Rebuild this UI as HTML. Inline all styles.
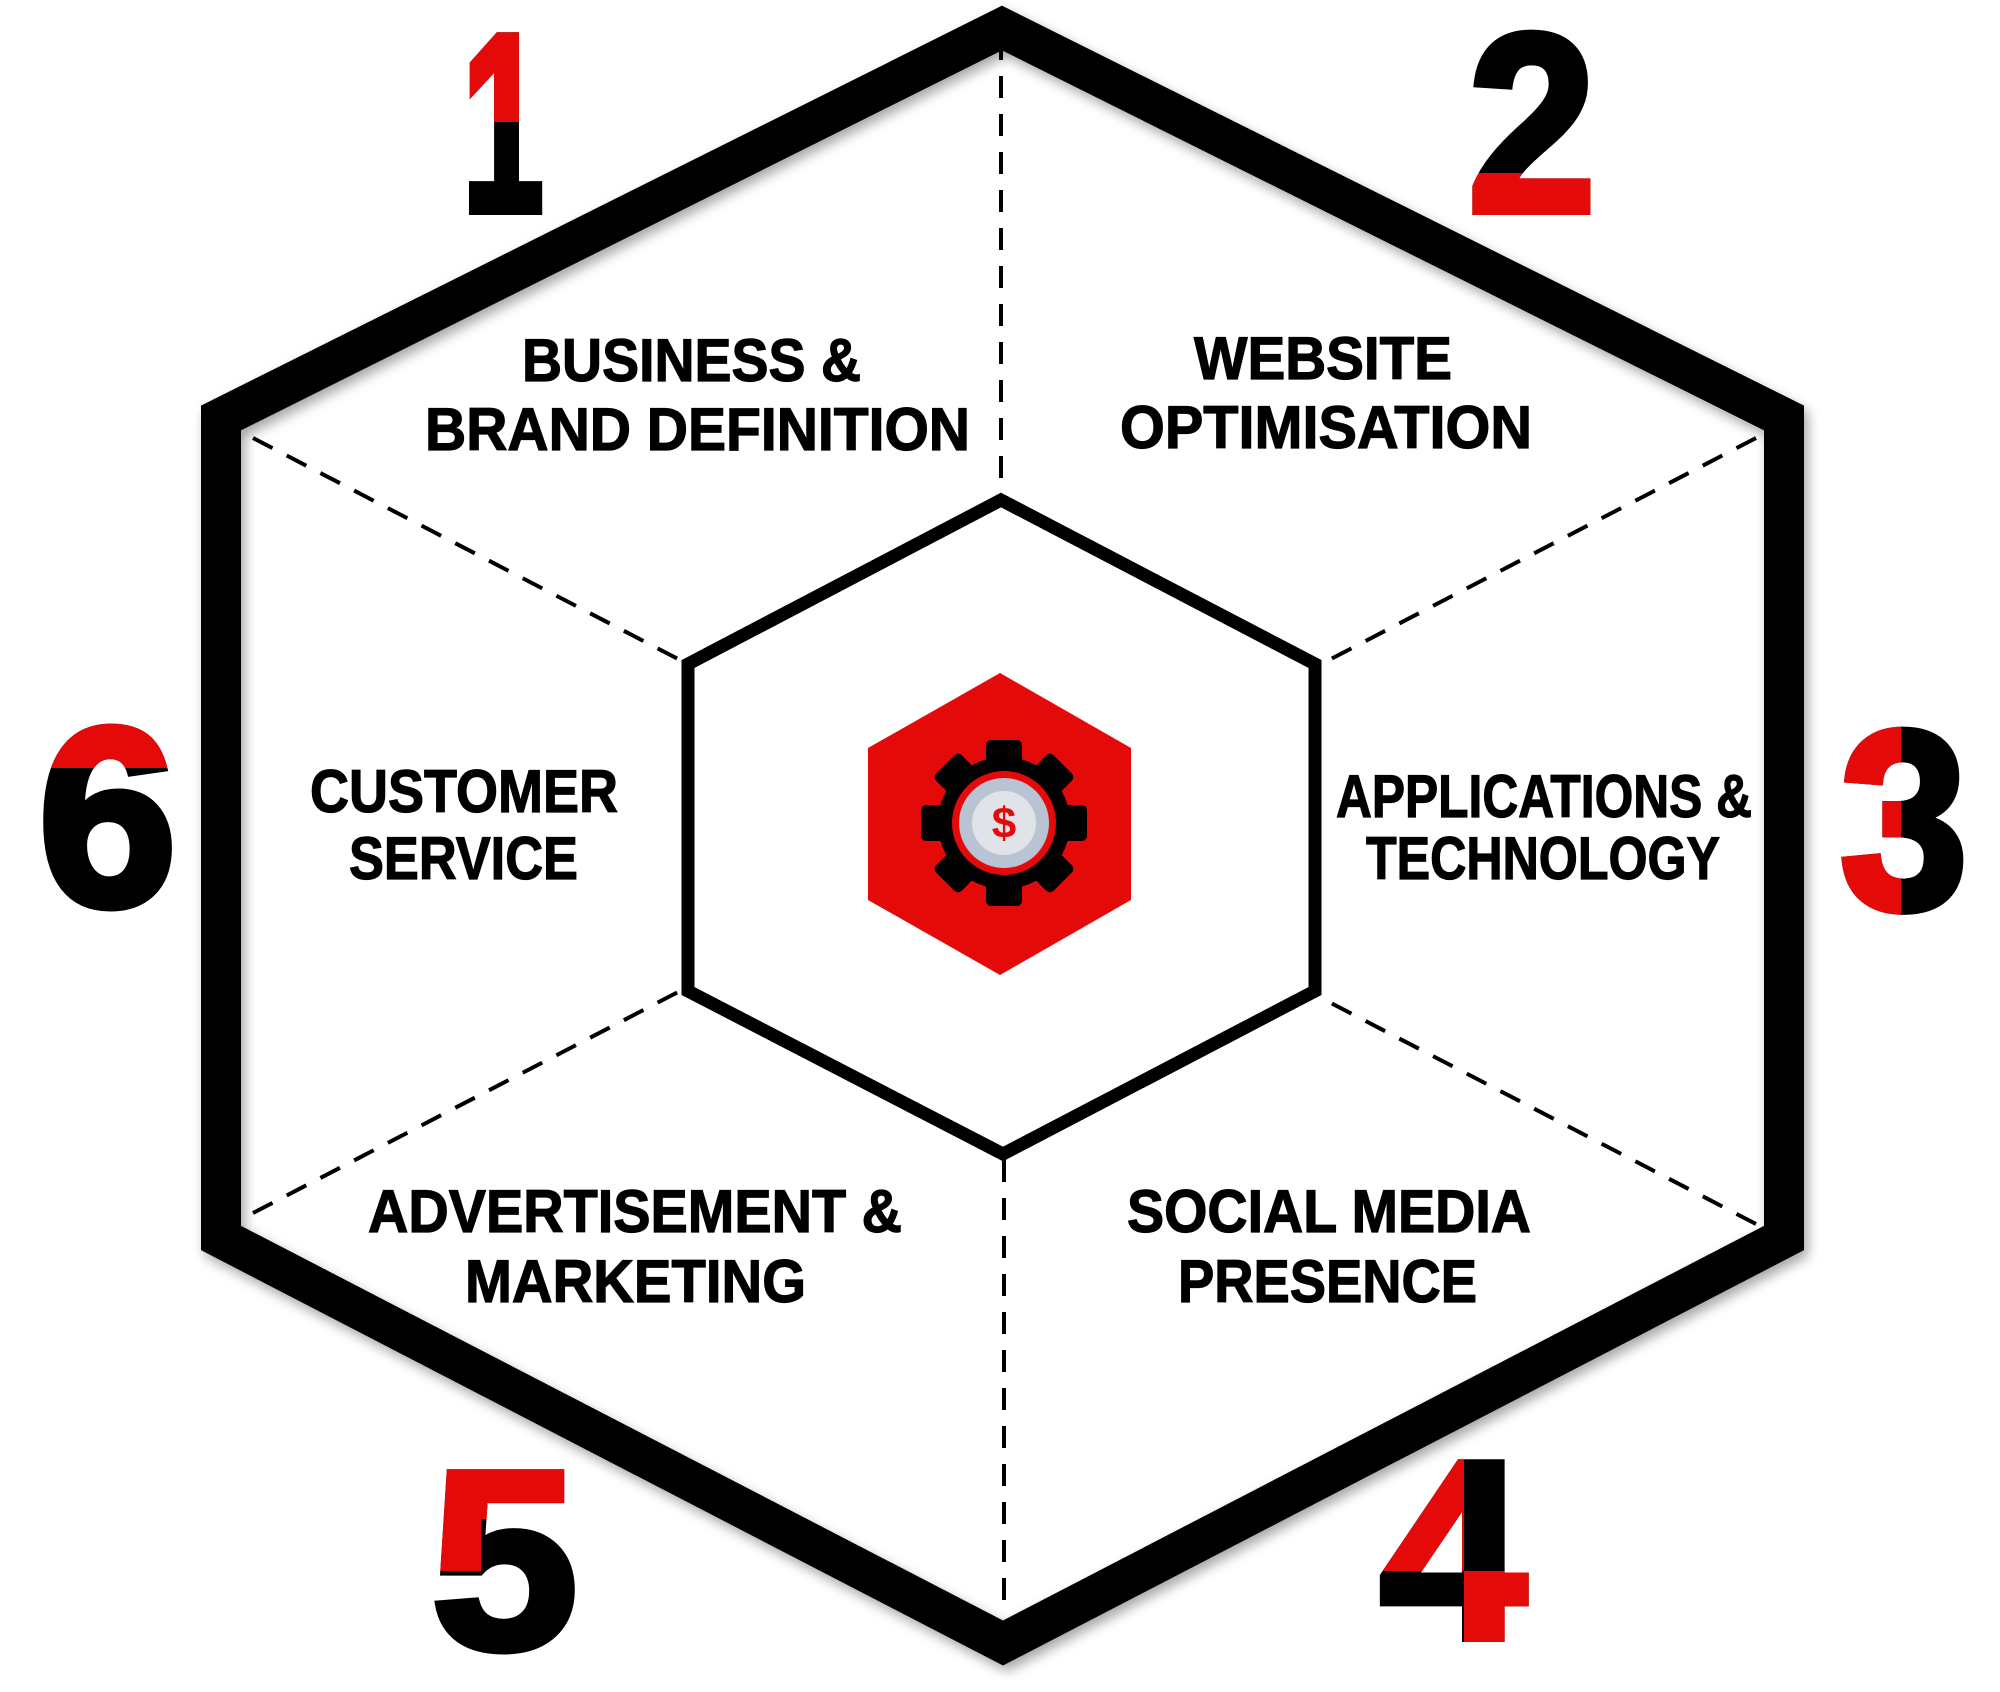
<!DOCTYPE html>
<html><head><meta charset="utf-8"><style>
html,body{margin:0;padding:0;background:#fff;}
svg{display:block;}
.t{font-family:"Liberation Sans",sans-serif;font-weight:bold;font-size:60px;fill:#000;stroke:#000;stroke-width:1.2px;}
.d{font-family:"Liberation Sans",sans-serif;font-weight:bold;font-size:254px;stroke-width:8px;}
</style></head><body>
<svg width="2000" height="1692" viewBox="0 0 2000 1692" xmlns="http://www.w3.org/2000/svg">
<defs>
<filter id="sh" x="-10%" y="-10%" width="120%" height="120%"><feGaussianBlur in="SourceAlpha" stdDeviation="6"/><feOffset dx="4" dy="6"/><feComponentTransfer><feFuncA type="linear" slope="0.35"/></feComponentTransfer><feMerge><feMergeNode/><feMergeNode in="SourceGraphic"/></feMerge></filter>
<clipPath id="c1r"><rect x="0" y="0" width="2000" height="122"/></clipPath>
<clipPath id="c2r"><rect x="0" y="173" width="2000" height="200"/></clipPath>
<clipPath id="c3r"><rect x="0" y="600" width="1901" height="400"/></clipPath>
<clipPath id="c4r"><rect x="0" y="1400" width="1464" height="171"/><rect x="1464" y="1571" width="200" height="200"/></clipPath>
<clipPath id="c5r"><rect x="0" y="1400" width="1000" height="119"/><rect x="0" y="1400" width="481" height="171"/></clipPath>
<clipPath id="c6r"><rect x="0" y="600" width="400" height="168"/></clipPath>
</defs>

<polygon points="1002,28 1784,418 1784,1238 1003,1643 221,1238 221,418" fill="none" stroke="#000" stroke-width="40" stroke-linejoin="miter" filter="url(#sh)"/>

<g stroke="#000" stroke-width="4" stroke-dasharray="22,16" fill="none">
<line x1="1001" y1="38" x2="1001" y2="494"/>
<line x1="1004" y1="1160" x2="1004" y2="1609"/>
<line x1="253" y1="438" x2="680" y2="660"/>
<line x1="1756" y1="438" x2="1329" y2="660"/>
<line x1="253" y1="1213" x2="680" y2="991"/>
<line x1="1756" y1="1224" x2="1329" y2="1002"/>
</g>

<polygon points="1001,500 1315,664 1315,991 1003,1154 688,991 688,664" fill="none" stroke="#000" stroke-width="13"/>

<polygon points="1000,673 1131,748 1131,900 1000,975 868,900 868,748" fill="#e50a0a"/>
<g transform="translate(1004,823)">
<g fill="#000">
<rect x="-18" y="-83" width="36" height="166" rx="5"/>
<rect x="-18" y="-83" width="36" height="166" rx="5" transform="rotate(45)"/>
<rect x="-18" y="-83" width="36" height="166" rx="5" transform="rotate(90)"/>
<rect x="-18" y="-83" width="36" height="166" rx="5" transform="rotate(135)"/>
<circle r="66"/>
</g>
<circle r="52" fill="#e50a0a"/>
<circle r="45" fill="#b8c4d4"/>
<circle r="32" fill="#e0e3e8"/>
<text x="0" y="15" text-anchor="middle" font-family="Liberation Sans,sans-serif" font-weight="bold" font-size="44" fill="#e50a0a">$</text>
</g>

<g transform="translate(-4,-4)">
<text class="t" x="526" y="385" textLength="339" lengthAdjust="spacingAndGlyphs">BUSINESS &amp;</text>
<text class="t" x="429" y="454" textLength="545" lengthAdjust="spacingAndGlyphs">BRAND DEFINITION</text>
<text class="t" x="1198" y="383" textLength="258" lengthAdjust="spacingAndGlyphs">WEBSITE</text>
<text class="t" x="1124" y="452" textLength="412" lengthAdjust="spacingAndGlyphs">OPTIMISATION</text>
<text class="t" x="314" y="816" textLength="308" lengthAdjust="spacingAndGlyphs">CUSTOMER</text>
<text class="t" x="353" y="883" textLength="229" lengthAdjust="spacingAndGlyphs">SERVICE</text>
<text class="t" x="1340" y="821" textLength="416" lengthAdjust="spacingAndGlyphs">APPLICATIONS &amp;</text>
<text class="t" x="1370" y="883" textLength="354" lengthAdjust="spacingAndGlyphs">TECHNOLOGY</text>
<text class="t" x="372" y="1236" textLength="534" lengthAdjust="spacingAndGlyphs">ADVERTISEMENT &amp;</text>
<text class="t" x="469" y="1306" textLength="341" lengthAdjust="spacingAndGlyphs">MARKETING</text>
<text class="t" x="1131" y="1236" textLength="404" lengthAdjust="spacingAndGlyphs">SOCIAL MEDIA</text>
<text class="t" x="1182" y="1306" textLength="299" lengthAdjust="spacingAndGlyphs">PRESENCE</text>
</g>

<g>
<text class="d" x="462" y="211" textLength="82" lengthAdjust="spacingAndGlyphs" fill="#000" stroke="#000">1</text>
<text class="d" x="462" y="211" textLength="82" lengthAdjust="spacingAndGlyphs" fill="#e50a0a" stroke="#e50a0a" clip-path="url(#c1r)">1</text>

<text class="d" x="1468" y="211" textLength="128" lengthAdjust="spacingAndGlyphs" fill="#000" stroke="#000">2</text>
<text class="d" x="1468" y="211" textLength="128" lengthAdjust="spacingAndGlyphs" fill="#e50a0a" stroke="#e50a0a" clip-path="url(#c2r)">2</text>

<text class="d" x="1840" y="908" textLength="128" lengthAdjust="spacingAndGlyphs" fill="#000" stroke="#000">3</text>
<text class="d" x="1840" y="908" textLength="128" lengthAdjust="spacingAndGlyphs" fill="#e50a0a" stroke="#e50a0a" clip-path="url(#c3r)">3</text>

<text class="d" x="1380" y="1638" textLength="146" lengthAdjust="spacingAndGlyphs" fill="#000" stroke="#000">4</text>
<text class="d" x="1380" y="1638" textLength="146" lengthAdjust="spacingAndGlyphs" fill="#e50a0a" stroke="#e50a0a" clip-path="url(#c4r)">4</text>

<text class="d" x="431" y="1648" textLength="147" lengthAdjust="spacingAndGlyphs" fill="#000" stroke="#000">5</text>
<text class="d" x="431" y="1648" textLength="147" lengthAdjust="spacingAndGlyphs" fill="#e50a0a" stroke="#e50a0a" clip-path="url(#c5r)">5</text>

<text class="d" x="38" y="905" textLength="139" lengthAdjust="spacingAndGlyphs" fill="#000" stroke="#000">6</text>
<text class="d" x="38" y="905" textLength="139" lengthAdjust="spacingAndGlyphs" fill="#e50a0a" stroke="#e50a0a" clip-path="url(#c6r)">6</text>
</g>
</svg>
</body></html>
